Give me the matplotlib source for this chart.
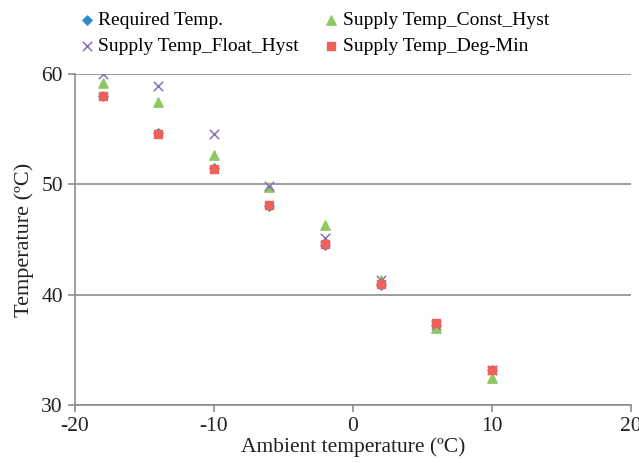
import matplotlib.pyplot as plt

plt.rcParams['font.family'] = ['Liberation Serif', 'DejaVu Serif']
plt.rcParams['axes.unicode_minus'] = False

ambient = [-18, -14, -10, -6, -2, 2, 6, 10]
required = [58.0, 54.7, 51.5, 48.0, 44.5, 40.9, 37.3, 33.2]
const_hyst = [59.2, 57.5, 52.7, 49.8, 46.3, 41.3, 37.0, 32.5]
float_hyst = [60.0, 58.9, 54.6, 49.9, 45.1, 41.3, 37.3, 33.2]
deg_min = [58.0, 54.6, 51.4, 48.1, 44.6, 41.0, 37.4, 33.2]

fig = plt.figure(figsize=(6.39, 4.63), dpi=100)
ax = fig.add_axes([0.117, 0.125, 0.870, 0.715])

h_req = ax.scatter(ambient, required, marker='D', s=22, color='#2E8BCB', zorder=3, label='Required Temp.')
h_const = ax.scatter(ambient, const_hyst, marker='^', s=45, color='#8FC861', zorder=3, label='Supply Temp_Const_Hyst')
h_float = ax.scatter(ambient, float_hyst, marker='x', s=45, color='#8A70B0', linewidths=1.1, zorder=4, label='Supply Temp_Float_Hyst')
h_deg = ax.scatter(ambient, deg_min, marker='s', s=40, color='#F0605A', zorder=5, label='Supply Temp_Deg-Min')

ax.set_xlim(-20, 20)
ax.set_ylim(30, 60)
ax.set_xticks([-20, -10, 0, 10, 20])
ax.set_yticks([30, 40, 50, 60])
ax.grid(axis='y', color='#8c8c8c', linewidth=1.2)
ax.set_axisbelow(True)
for side in ['top', 'right']:
    ax.spines[side].set_visible(False)
for side in ['left', 'bottom']:
    ax.spines[side].set_color('#8c8c8c')
    ax.spines[side].set_linewidth(1.2)
ax.tick_params(colors='#8c8c8c', labelcolor='#222222', labelsize=15.5, length=5, width=1.2)

ax.set_xlabel('Ambient temperature (ºC)', fontsize=15.5, color='#222222', labelpad=1)
ax.set_ylabel('Temperature (ºC)', fontsize=16, color='#222222', labelpad=5)

fig.legend([h_req, h_float, h_const, h_deg],
           ['Required Temp.', 'Supply Temp_Float_Hyst', 'Supply Temp_Const_Hyst', 'Supply Temp_Deg-Min'],
           ncol=2, loc='upper left', bbox_to_anchor=(0.105, 1.0), frameon=False,
           fontsize=14, handletextpad=0.2, handlelength=0.8, columnspacing=1.25,
           labelspacing=0.42, borderaxespad=0.2)

fig.savefig('out.png', dpi=100)
